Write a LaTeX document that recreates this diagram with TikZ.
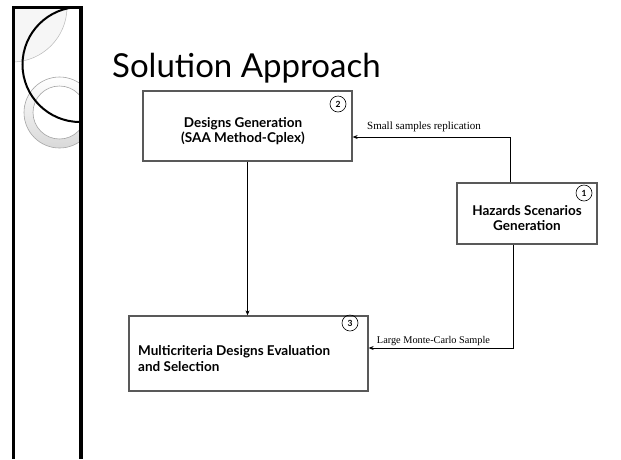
\documentclass[tikz,border=0pt]{standalone}
\usepackage{fontspec}
\setmainfont{Lato}
\newfontfamily\serifl{Liberation Serif}
\usetikzlibrary{arrows.meta}
\begin{document}
\begin{tikzpicture}[x=1pt,y=-1pt,
  box/.style={draw=black!65, line width=1.3pt, rectangle, inner sep=0pt},
  boxtext/.style={font=\fontsize{13.5}{15.5}\selectfont\bfseries, inner sep=0pt},
  numc/.style={draw=black, line width=0.6pt, circle, minimum size=16pt, inner sep=0pt, font=\fontsize{8.5}{9}\selectfont\bfseries},
  lbl/.style={font=\serifl\fontsize{11}{12}\selectfont, inner sep=0pt},
  arr/.style={draw=black, line width=0.6pt, -{Stealth[length=5pt,width=4pt]}}]
\useasboundingbox (0,0) rectangle (621,459);
\fill[white] (0,0) rectangle (621,459);
% left decoration
\begin{scope}
  \clip (12,7) rectangle (80,459);
  \fill[gray!7] (12,7) circle (55);
  \draw[gray!55, line width=0.5pt] (12,7) circle (55);
  \shade[top color=white, bottom color=gray!30, even odd rule] (59.5,112.5) circle (35.5) (59.5,112.5) circle (26.5);
  \draw[gray!70, line width=0.6pt] (59.5,112.5) circle (35.5) (59.5,112.5) circle (26.5);
  \draw[black, line width=2pt] (80,64.5) circle (57.5);
\end{scope}
\fill[black] (11.5,6) rectangle (14.5,459);
\fill[black] (11.5,5.8) rectangle (80,8.6);
\fill[black] (79,6) rectangle (83,459);
% title
\node[anchor=base west, inner sep=0pt, font=\fontsize{33}{38}\selectfont] (title) at (112,77) {Solution Approach};
% boxes
\node[box, minimum width=209pt, minimum height=70pt] (b2) at (247.5,126) {};
\node[box, minimum width=140pt, minimum height=61pt] (b1) at (527,213.5) {};
\node[box, minimum width=239pt, minimum height=75pt] (b3) at (248.5,353.5) {};
\node[boxtext, align=center] (t2) at (243,131) {Designs Generation\\(SAA Method-Cplex)};
\node[boxtext, align=center] (t1) at (527,218) {Hazards Scenarios\\Generation};
\node[boxtext, align=left, anchor=west] (t3) at (138,358.5) {Multicriteria Designs Evaluation\\and Selection};
\node[numc] (n2) at (338,104) {2};
\node[numc] (n1) at (584,193) {1};
\node[numc] (n3) at (350,323) {3};
% connectors
\draw[arr] (b2.south) -- (b2.south |- b3.north);
\coordinate (c1) at ([xshift=-17pt]b1.north);
\coordinate (c2) at ([yshift=-11pt]b2.east);
\draw[arr] (c1) |- (c2);
\coordinate (c3) at ([xshift=-14pt]b1.south);
\coordinate (c4) at ([yshift=5.5pt]b3.east);
\draw[arr] (c3) |- (c4);
\node[lbl] (l1) at (424,127) {Small samples replication};
\node[lbl, font=\serifl\fontsize{10.3}{12}\selectfont] (l2) at (433.5,341) {Large Monte-Carlo Sample};
\end{tikzpicture}
\end{document}
